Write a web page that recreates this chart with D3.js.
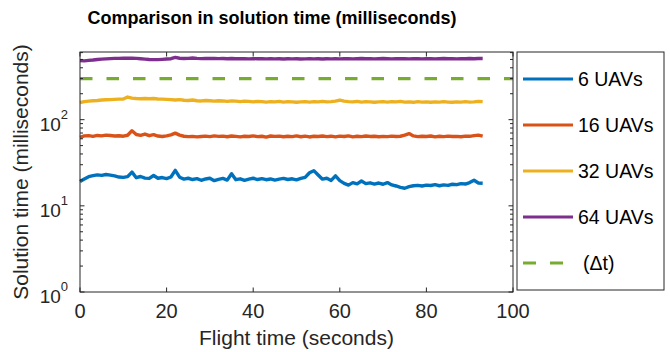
<!DOCTYPE html>
<html>
  <head>
    <meta charset="utf-8">
    <title>Solution time</title>
    <script src="https://cdnjs.cloudflare.com/ajax/libs/d3/7.8.5/d3.min.js"></script>
    <style>
      body { margin: 0; background: #fff; }
      text { font-family: "Liberation Sans", Arial, sans-serif; fill: #262626; }
    </style>
  </head>
  <body>
    <script>
      // flight time (s), one sample per second
      var time = [0,1,2,3,4,5,6,7,8,9,10,11,12,13,14,15,16,17,18,19,20,21,22,23,24,25,26,27,28,29,
        30,31,32,33,34,35,36,37,38,39,40,41,42,43,44,45,46,47,48,49,50,51,52,53,54,55,56,57,58,59,
        60,61,62,63,64,65,66,67,68,69,70,71,72,73,74,75,76,77,78,79,80,81,82,83,84,85,86,87,88,89,
        90,91,92,93];

      // solution time (ms)
      var uav6 = [19.2,20.5,21.8,22.4,22.9,22.6,23.1,22.7,22.3,21.6,21.4,21.8,24.6,21.2,21.9,21.0,20.8,22.5,20.9,21.3,
        20.7,21.6,25.8,21.5,20.4,20.9,20.2,20.7,19.8,20.5,20.9,19.6,20.3,20.8,19.9,23.6,20.1,20.6,19.8,20.4,
        20.9,20.2,20.7,20.1,20.5,19.9,20.4,20.8,20.2,20.6,20.0,20.8,21.4,24.2,25.6,22.8,20.4,20.9,19.7,22.3,
        19.6,18.2,17.4,18.6,18.0,19.4,18.1,18.5,17.9,18.4,17.8,18.6,17.5,17.0,16.4,16.0,16.7,17.1,17.3,17.0,
        17.4,17.2,17.6,17.1,17.5,17.3,17.8,17.6,18.1,17.9,18.6,19.8,18.4,18.3];
      var uav16 = [62.5,64.8,65.3,64.1,65.6,64.9,66.2,65.4,64.7,65.1,64.3,66.0,74.5,67.2,65.8,68.1,65.2,67.0,64.6,63.8,
        64.9,66.5,69.8,66.1,64.2,63.5,64.0,63.1,63.8,64.4,63.6,64.8,63.9,64.5,63.4,64.7,64.0,63.2,64.3,63.7,
        64.9,63.5,64.2,62.8,64.6,63.9,64.4,63.3,64.1,63.6,64.8,63.4,64.5,63.0,64.2,63.8,64.6,63.5,64.3,63.1,
        64.4,63.7,64.9,63.2,64.1,63.6,64.7,63.9,64.3,63.4,64.0,63.6,64.5,63.8,64.2,66.0,68.9,64.8,63.5,64.3,
        63.7,64.6,63.2,64.1,63.6,64.4,63.8,64.0,63.3,64.5,64.1,65.3,66.2,64.4];
      var uav32 = [158,162,164,166,167,169,170,171,172,173,174,183,178,176,175,176,175,176,174,173,
        172,171,169,171,168,167,169,166,165,167,166,164,166,165,163,165,164,162,164,163,
        161,163,162,160,162,161,163,160,162,161,159,161,162,160,162,161,163,161,162,164,
        169,164,162,161,163,160,162,161,159,161,162,160,162,161,163,160,161,159,162,160,
        161,159,161,160,162,160,159,161,160,162,160,161,163,162];
      var uav64 = [484,481,488,492,499,504,508,511,514,515,516,518,516,514,510,505,500,497,498,501,
        505,510,528,516,512,515,519,514,511,514,512,514,511,513,510,512,509,511,510,508,
        511,509,510,507,510,508,510,506,509,507,510,506,508,510,507,509,506,510,508,510,
        507,509,511,508,510,512,509,511,507,510,512,510,508,511,509,510,508,510,511,507,
        509,511,508,510,512,509,511,508,511,510,512,510,513,512];
      var deltaT = 300;

      var seriesNames = ["6 UAVs", "16 UAVs", "32 UAVs", "64 UAVs"];
      var seriesColors = ["#0072BD", "#D95319", "#EDB120", "#7E2F8E"];
      var seriesValues = [uav6, uav16, uav32, uav64];
      var xTicks = [0, 20, 40, 60, 80, 100];
      var yTicks = [1, 10, 100];

      var W = 670, H = 352;
      var plotL = 80, plotR = 513, plotT = 52, plotB = 292;
      var axisCol = "#262626";

      var svg = d3.select("body").append("svg")
        .attr("width", W)
        .attr("height", H);

      var x = d3.scaleLinear().domain([0, 100]).range([plotL, plotR]);
      var y = d3.scaleLog().domain([1, 610]).range([plotB, plotT]);

      // title
      svg.append("text")
        .attr("x", 272)
        .attr("y", 24)
        .attr("text-anchor", "middle")
        .style("font-size", "18px")
        .style("font-weight", "bold")
        .style("fill", "#000")
        .text("Comparison in solution time (milliseconds)");

      var plot = svg.append("g");

      // data lines
      var line = d3.line()
        .x(function (d, i){ return x(time[i]); })
        .y(function (d){ return y(d); });

      seriesValues.forEach(function (vals, k){
        plot.append("path")
          .datum(vals)
          .attr("d", line)
          .attr("fill", "none")
          .attr("stroke", seriesColors[k])
          .attr("stroke-width", 3.4)
          .attr("stroke-linejoin", "round");
      });

      plot.append("line")
        .attr("x1", x(0)).attr("x2", x(100))
        .attr("y1", y(deltaT)).attr("y2", y(deltaT))
        .attr("stroke", "#77AC30")
        .attr("stroke-width", 3.2)
        .attr("stroke-dasharray", "12.5,14");

      // box
      svg.append("rect")
        .attr("x", plotL).attr("y", plotT)
        .attr("width", plotR - plotL).attr("height", plotB - plotT)
        .attr("fill", "none")
        .attr("stroke", axisCol)
        .attr("stroke-width", 1);

      // x ticks (inward, bottom and top)
      xTicks.forEach(function (t){
        svg.append("line")
          .attr("x1", x(t)).attr("x2", x(t))
          .attr("y1", plotB).attr("y2", plotB - 4.5)
          .attr("stroke", axisCol);
        svg.append("line")
          .attr("x1", x(t)).attr("x2", x(t))
          .attr("y1", plotT).attr("y2", plotT + 4.5)
          .attr("stroke", axisCol);
        svg.append("text")
          .attr("x", x(t))
          .attr("y", plotB + 26)
          .attr("text-anchor", "middle")
          .style("font-size", "20px")
          .text(t);
      });

      // y ticks, log minors
      var minors = [];
      [1, 10, 100].forEach(function (dec){
        for (var m = 1; m <= 9; m++) {
          if (dec * m <= 610) minors.push(dec * m);
        }
      });
      minors.forEach(function (v){
        var major = yTicks.indexOf(v) >= 0;
        var len = major ? 4.5 : 3;
        svg.append("line")
          .attr("x1", plotL).attr("x2", plotL + len)
          .attr("y1", y(v)).attr("y2", y(v))
          .attr("stroke", axisCol);
        svg.append("line")
          .attr("x1", plotR).attr("x2", plotR - len)
          .attr("y1", y(v)).attr("y2", y(v))
          .attr("stroke", axisCol);
      });

      yTicks.forEach(function (v){
        var txt = svg.append("text")
          .attr("x", plotL - 12)
          .attr("y", y(v) + 11)
          .attr("text-anchor", "end")
          .style("font-size", "19px");
        txt.append("tspan").text("10");
        txt.append("tspan")
          .attr("dy", -12)
          .style("font-size", "13px")
          .text(Math.round(Math.log10(v)));
      });

      // axis labels
      svg.append("text")
        .attr("x", (plotL + plotR) / 2)
        .attr("y", 345)
        .attr("text-anchor", "middle")
        .style("font-size", "21px")
        .text("Flight time (seconds)");

      svg.append("text")
        .attr("transform", "translate(28," + (plotT + plotB) / 2 + ") rotate(-90)")
        .attr("text-anchor", "middle")
        .style("font-size", "21px")
        .text("Solution time (milliseconds)");

      // legend
      var lg = svg.append("g");
      lg.append("rect")
        .attr("x", 517).attr("y", 52)
        .attr("width", 147).attr("height", 238)
        .attr("fill", "#fff")
        .attr("stroke", axisCol)
        .attr("stroke-width", 1);

      var legendNames = seriesNames.concat(["(\u0394t)"]);
      legendNames.forEach(function (name, i){
        var cy = 79 + i * 46;
        var ln = lg.append("line")
          .attr("x1", 523).attr("x2", 573)
          .attr("y1", cy).attr("y2", cy)
          .attr("stroke-width", 3);
        if (i < 4) {
          ln.attr("stroke", seriesColors[i]);
        } else {
          ln.attr("x2", 564)
            .attr("stroke", "#77AC30")
            .attr("stroke-dasharray", "13,14");
        }
        lg.append("text")
          .attr("x", i < 4 ? 578 : 583)
          .attr("y", cy + 7)
          .style("font-size", "19.5px")
          .style("fill", "#000")
          .text(name);
      });
    </script>
  </body>
</html>
